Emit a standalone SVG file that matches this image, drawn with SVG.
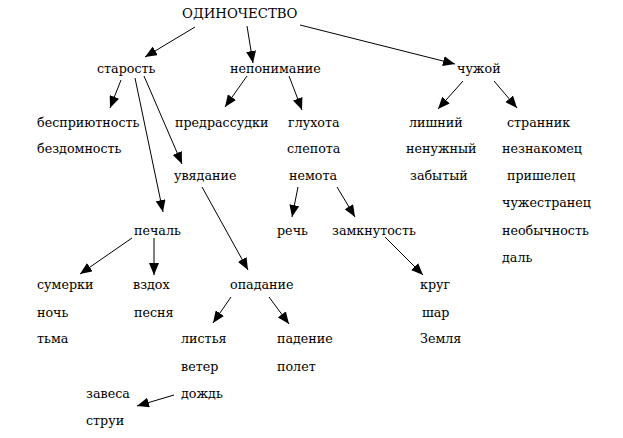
<svg xmlns="http://www.w3.org/2000/svg" width="623" height="438" viewBox="0 0 623 438">
<style>
.c line{stroke:#000;stroke-width:1;fill:none}
text{font-family:'DejaVu Serif',serif;font-size:12.7px;fill:#000}
.t{font-size:13.3px}
</style>
<defs>
<marker id="ah" viewBox="0 0 12 10" refX="12" refY="5" markerWidth="12" markerHeight="10" markerUnits="userSpaceOnUse" orient="auto"><path d="M0,0L12,5L0,10z" fill="#000"/></marker>
</defs>
<rect width="623" height="438" fill="#fff"/>
<g class="c">
<line x1="195" y1="27" x2="145" y2="57" marker-end="url(#ah)"/>
<line x1="247" y1="26" x2="253" y2="63" marker-end="url(#ah)"/>
<line x1="300" y1="25" x2="455" y2="64" marker-end="url(#ah)"/>
<line x1="121" y1="80" x2="110" y2="108" marker-end="url(#ah)"/>
<line x1="135" y1="78" x2="163" y2="212" marker-end="url(#ah)"/>
<line x1="144" y1="76" x2="182" y2="164" marker-end="url(#ah)"/>
<line x1="247" y1="76" x2="225" y2="107" marker-end="url(#ah)"/>
<line x1="289" y1="76" x2="302" y2="110" marker-end="url(#ah)"/>
<line x1="463" y1="81" x2="438" y2="109" marker-end="url(#ah)"/>
<line x1="494" y1="81" x2="517" y2="108" marker-end="url(#ah)"/>
<line x1="202" y1="187" x2="248" y2="270" marker-end="url(#ah)"/>
<line x1="298" y1="187" x2="292" y2="217" marker-end="url(#ah)"/>
<line x1="337" y1="187" x2="355" y2="217" marker-end="url(#ah)"/>
<line x1="132" y1="238" x2="80" y2="274" marker-end="url(#ah)"/>
<line x1="154" y1="238" x2="154" y2="275" marker-end="url(#ah)"/>
<line x1="385" y1="237" x2="423" y2="275" marker-end="url(#ah)"/>
<line x1="231" y1="297" x2="213" y2="323" marker-end="url(#ah)"/>
<line x1="269" y1="297" x2="289" y2="324" marker-end="url(#ah)"/>
<line x1="174" y1="395" x2="137" y2="406" marker-end="url(#ah)"/>
</g>
<g id="n-odinochestvo"><text class="t" x="182" y="18">ОДИНОЧЕСТВО</text></g>
<g id="n-starost"><text x="97" y="73">старость</text></g>
<g id="n-neponimanie"><text x="230" y="73">непонимание</text></g>
<g id="n-chuzhoy"><text x="457" y="73">чужой</text></g>
<g id="n-besprijutnost"><text x="37" y="127">бесприютность</text><text x="37" y="153">бездомность</text></g>
<g id="n-predrassudki"><text x="175" y="127">предрассудки</text></g>
<g id="n-gluhota"><text x="288" y="127">глухота</text><text x="287" y="153">слепота</text></g>
<g id="n-nemota"><text x="289" y="180">немота</text></g>
<g id="n-lishniy"><text x="409" y="127">лишний</text><text x="406" y="153">ненужный</text><text x="410" y="180">забытый</text></g>
<g id="n-strannik"><text x="507" y="127">странник</text><text x="502" y="153">незнакомец</text><text x="507" y="180">пришелец</text><text x="502" y="207">чужестранец</text><text x="502" y="235">необычность</text><text x="502" y="262">даль</text></g>
<g id="n-uvyadanie"><text x="174" y="180">увядание</text></g>
<g id="n-pechal"><text x="134" y="235">печаль</text></g>
<g id="n-rech"><text x="277" y="235">речь</text></g>
<g id="n-zamknutost"><text x="332" y="235">замкнутость</text></g>
<g id="n-sumerki"><text x="37" y="289">сумерки</text><text x="37" y="317">ночь</text><text x="37" y="343">тьма</text></g>
<g id="n-vzdoh"><text x="133" y="289">вздох</text><text x="134" y="317">песня</text></g>
<g id="n-opadanie"><text x="230" y="289">опадание</text></g>
<g id="n-krug"><text x="420" y="289">круг</text><text x="422" y="317">шар</text><text x="420" y="343">Земля</text></g>
<g id="n-listya"><text x="181" y="343">листья</text><text x="181" y="371">ветер</text><text x="181" y="398">дождь</text></g>
<g id="n-padenie"><text x="277" y="343">падение</text><text x="277" y="371">полет</text></g>
<g id="n-zavesa"><text x="86" y="398">завеса</text><text x="86" y="425">струи</text></g>
</svg>
